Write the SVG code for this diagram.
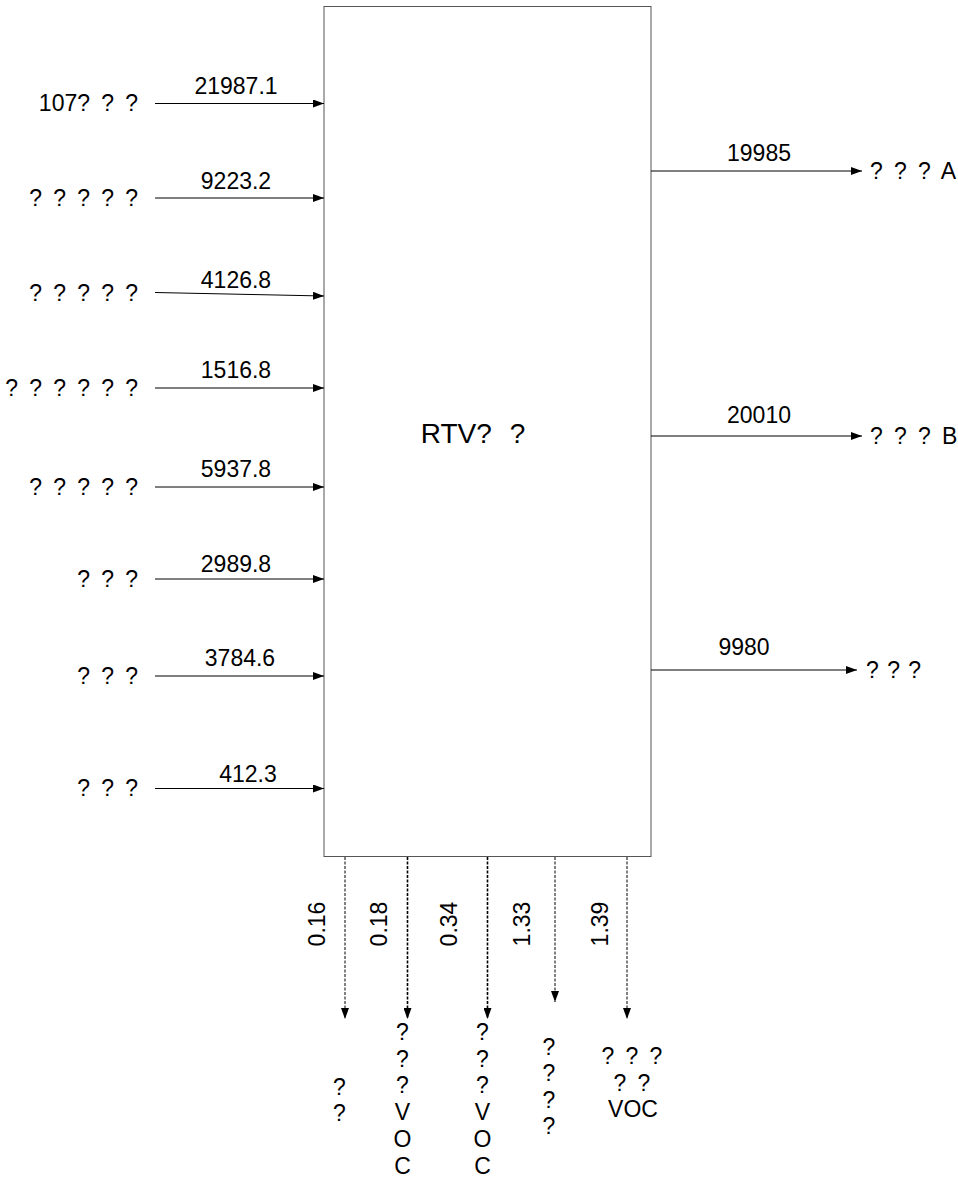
<svg xmlns="http://www.w3.org/2000/svg" width="958" height="1185" viewBox="0 0 958 1185">
<defs>
<marker id="ah" markerWidth="11" markerHeight="8" refX="11" refY="4" orient="auto" markerUnits="userSpaceOnUse"><path d="M0,0 L11,4 L0,8 z" fill="#000"/></marker>
<style>
text{font-family:"Liberation Sans",Arial,sans-serif;font-size:23px;fill:#000}
.q{word-spacing:4.8px}
.e{text-anchor:end}
.m{text-anchor:middle}
.c line{stroke:#000;stroke-width:1;fill:none;marker-end:url(#ah)}
.c line.d{stroke-dasharray:3,1.5}
.c line.b{stroke-width:1.6}
</style>
</defs>
<rect width="958" height="1185" fill="#fff"/>
<g id="box">
<rect x="324" y="6.5" width="327" height="850" fill="#fff" stroke="#555" stroke-width="1"/>
<text x="473" y="443" class="m" style="font-size:28px;word-spacing:10px">RTV? ?</text>
</g>
<g id="inputs">
<text x="138" y="111" class="e q">107? ? ?</text>
<text x="138" y="206" class="e q">? ? ? ? ?</text>
<text x="138" y="301" class="e q">? ? ? ? ?</text>
<text x="138" y="396" class="e q">? ? ? ? ? ?</text>
<text x="138" y="495" class="e q">? ? ? ? ?</text>
<text x="138" y="587" class="e q">? ? ?</text>
<text x="138" y="684" class="e q">? ? ?</text>
<text x="138" y="796" class="e q">? ? ?</text>
</g>
<g id="outputs">
<text x="870" y="179" class="q">? ? ? A</text>
<text x="870" y="444" class="q">? ? ? B</text>
<text x="866" y="678" class="q" style="word-spacing:2px">? ? ?</text>
</g>
<g id="emissions">
<text class="m"><tspan x="339.5" y="1095">?</tspan><tspan x="339.5" y="1121">?</tspan></text>
<text class="m"><tspan x="402.5" y="1040">?</tspan><tspan x="402.5" y="1066.5">?</tspan><tspan x="402.5" y="1093">?</tspan><tspan x="402.5" y="1120">V</tspan><tspan x="402.5" y="1147">O</tspan><tspan x="402.5" y="1174">C</tspan></text>
<text class="m"><tspan x="482.5" y="1040">?</tspan><tspan x="482.5" y="1066.5">?</tspan><tspan x="482.5" y="1093">?</tspan><tspan x="482.5" y="1120">V</tspan><tspan x="482.5" y="1147">O</tspan><tspan x="482.5" y="1174">C</tspan></text>
<text class="m"><tspan x="549" y="1055">?</tspan><tspan x="549" y="1081">?</tspan><tspan x="549" y="1107.5">?</tspan><tspan x="549" y="1134">?</tspan></text>
<text class="m q"><tspan x="632" y="1064">? ? ?</tspan><tspan x="632" y="1090.5">? ?</tspan><tspan x="633" y="1117">VOC</tspan></text>
</g>
<g id="connectors" class="c">
<line x1="155" y1="103.5" x2="324" y2="103.5"/>
<line x1="155" y1="198" x2="324" y2="198"/>
<line x1="155" y1="292.5" x2="324" y2="296"/>
<line x1="155" y1="388" x2="324" y2="388"/>
<line x1="155" y1="487" x2="324" y2="487"/>
<line x1="155" y1="579" x2="324" y2="579"/>
<line x1="155" y1="676" x2="324" y2="676"/>
<line x1="155" y1="788.5" x2="324" y2="788.5"/>
<line x1="651" y1="171" x2="862" y2="171"/>
<line x1="651" y1="436" x2="862" y2="436"/>
<line x1="651" y1="670" x2="857" y2="670"/>
<line class="d" x1="345" y1="857" x2="345" y2="1019"/>
<line class="d b" x1="407.5" y1="857" x2="407.5" y2="1019"/>
<line class="d b" x1="487.5" y1="857" x2="487.5" y2="1019"/>
<line class="d" x1="555" y1="857" x2="555" y2="1002"/>
<line class="d" x1="627" y1="857" x2="627" y2="1019"/>
</g>
<g id="flow-labels">
<text x="236" y="94" class="m">21987.1</text>
<text x="236" y="189" class="m">9223.2</text>
<text x="236" y="288" class="m">4126.8</text>
<text x="236" y="378" class="m">1516.8</text>
<text x="236" y="477" class="m">5937.8</text>
<text x="236" y="572" class="m">2989.8</text>
<text x="240" y="666" class="m">3784.6</text>
<text x="248" y="782" class="m">412.3</text>
<text x="759" y="161" class="m">19985</text>
<text x="759" y="423" class="m">20010</text>
<text x="744" y="655" class="m">9980</text>
<text transform="translate(325,924) rotate(-90)" class="m">0.16</text>
<text transform="translate(387,924) rotate(-90)" class="m">0.18</text>
<text transform="translate(457,924) rotate(-90)" class="m">0.34</text>
<text transform="translate(530,924) rotate(-90)" class="m">1.33</text>
<text transform="translate(608,924) rotate(-90)" class="m">1.39</text>
</g>
</svg>
